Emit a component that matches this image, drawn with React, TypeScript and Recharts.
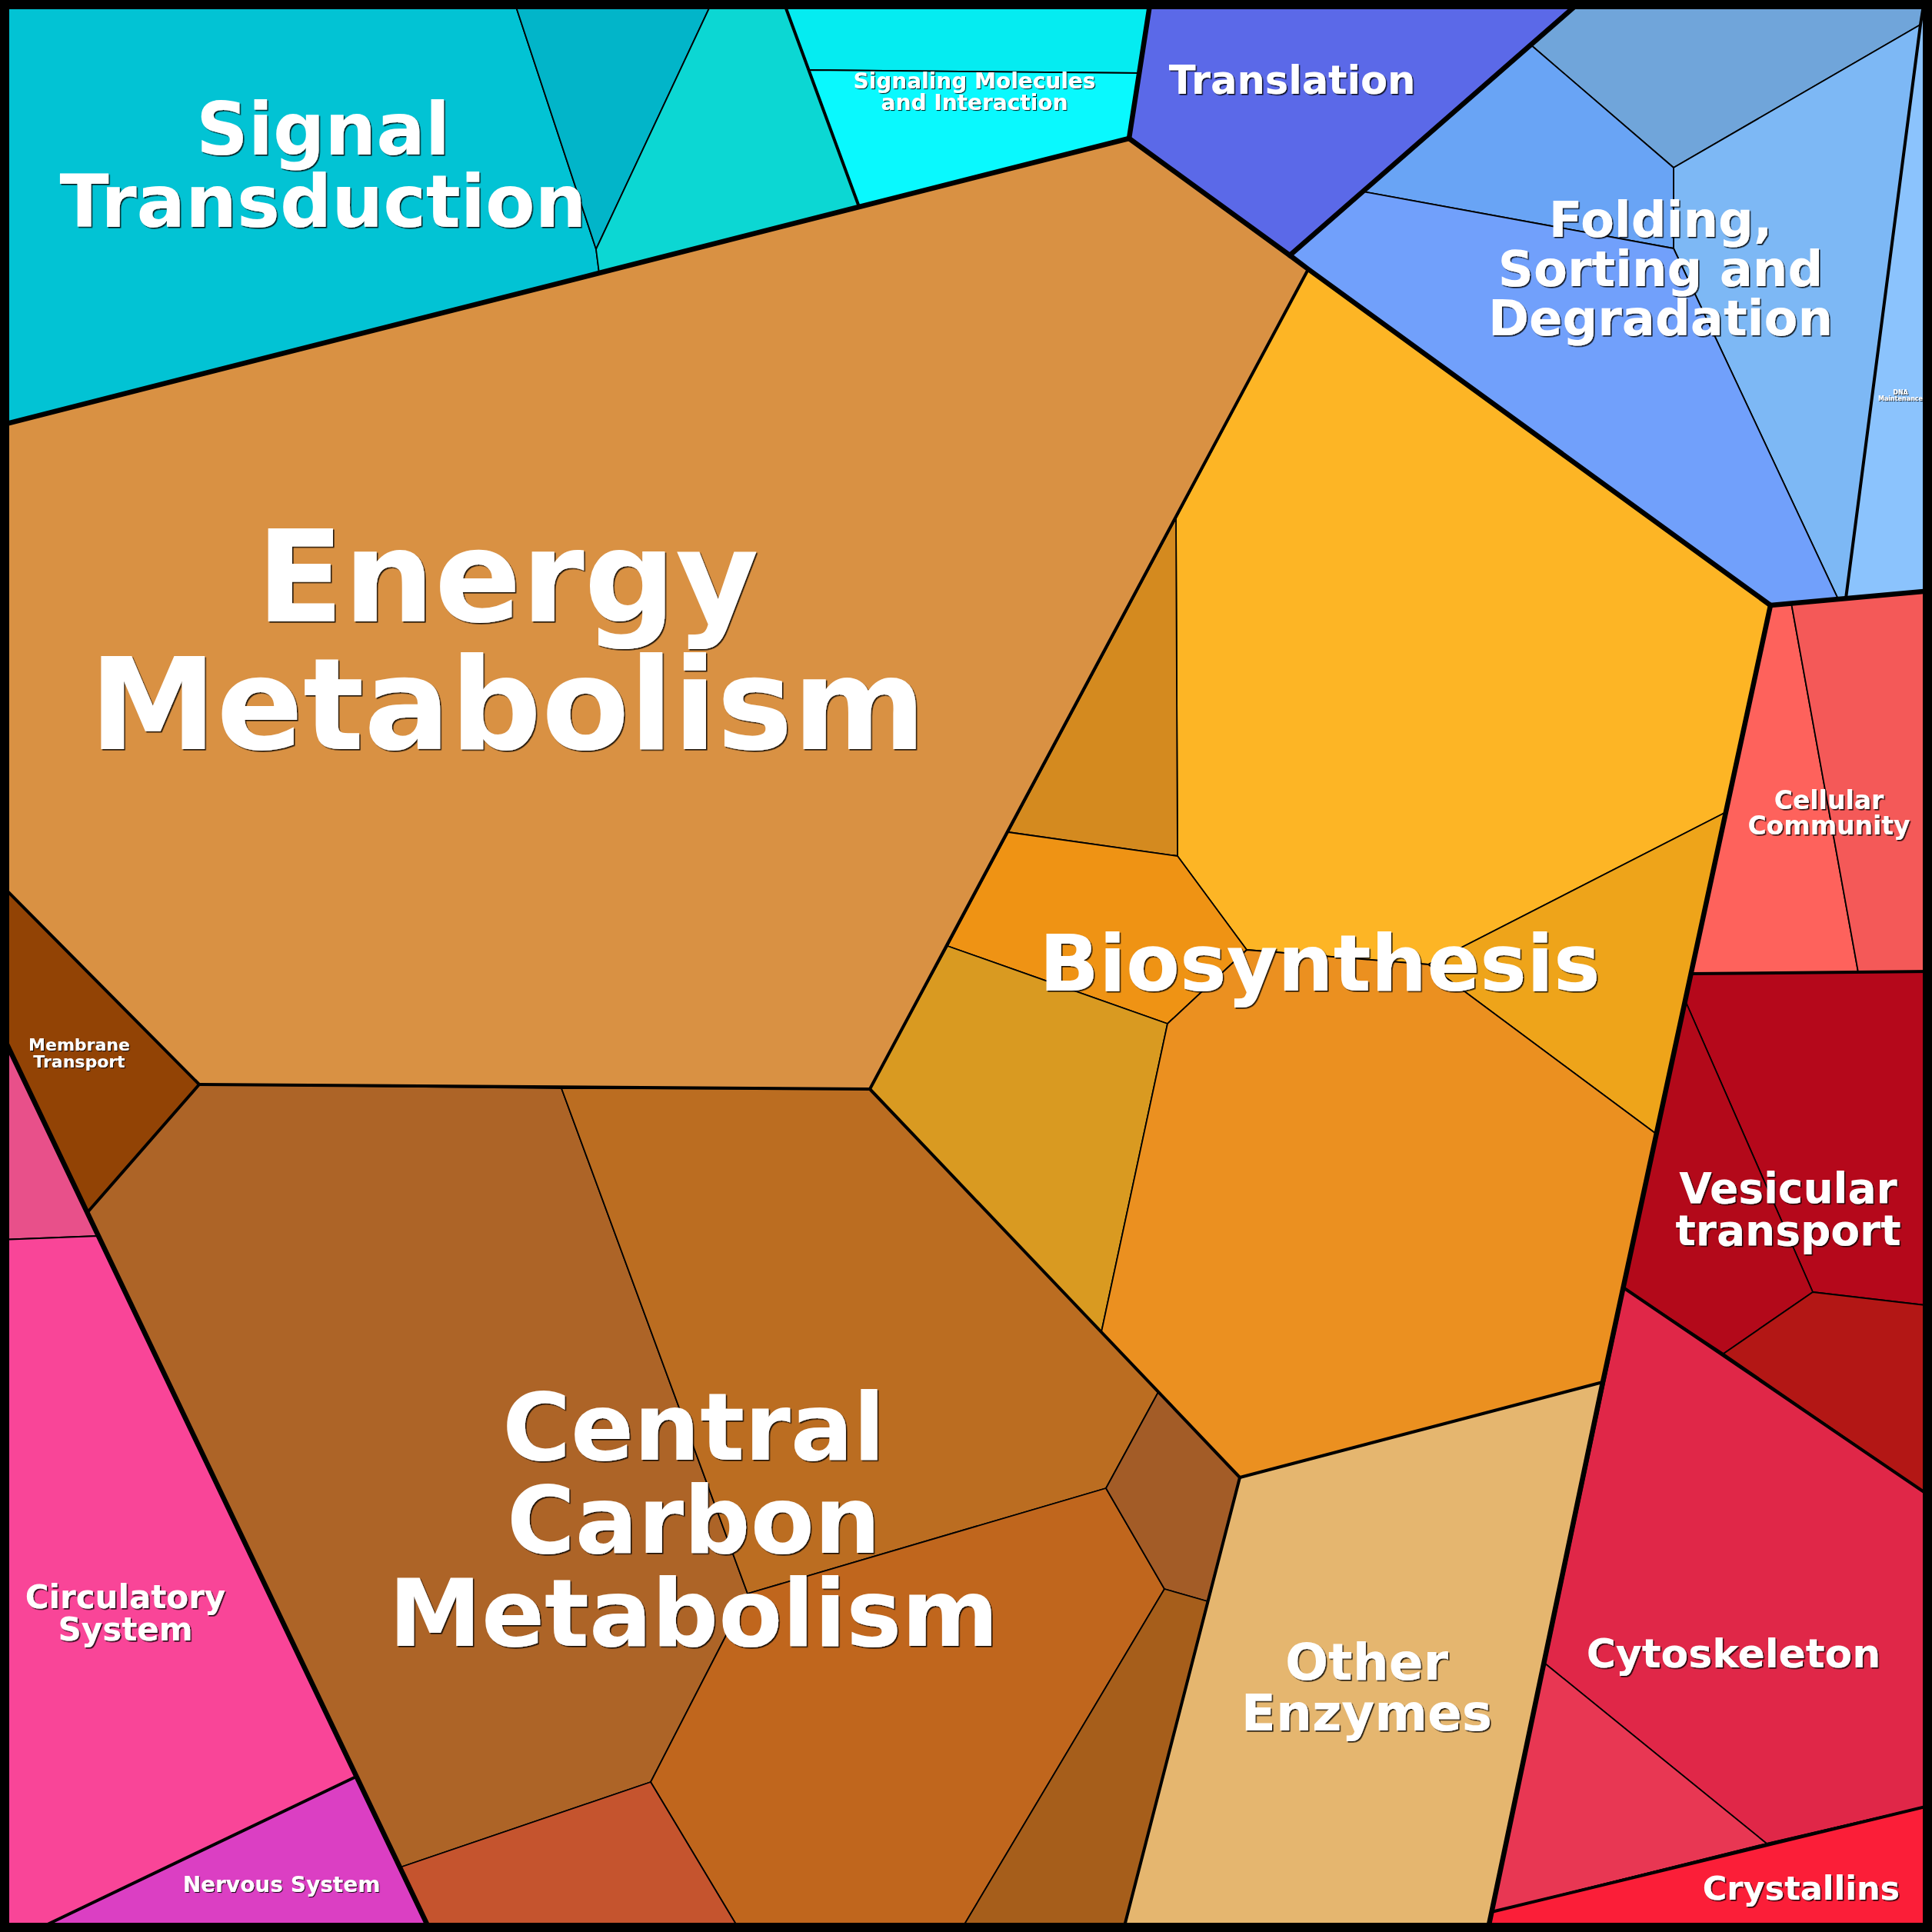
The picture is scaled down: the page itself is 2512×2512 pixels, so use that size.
import React from 'react';
import { ScatterChart, Scatter, XAxis, YAxis } from 'recharts';

type P = [number, number];

const SIZE = 2512;

// ---------- leaf cells (vertices in chart units, y down) ----------
const signalTransA: P[] = [[0, 0], [668, 0], [775, 324], [779, 355], [0, 553]];
const signalTransB: P[] = [[668, 0], [927, 0], [775, 324]];
const signalTransC: P[] = [[927, 0], [1018, 0], [1117, 269], [779, 355], [775, 324]];
const signalingMolA: P[] = [[1018, 0], [1496, 0], [1481, 95], [1052, 91]];
const signalingMolB: P[] = [[1052, 91], [1481, 95], [1468, 180], [1117, 269]];
const translation: P[] = [[1496, 0], [2057, 0], [1677, 332], [1468, 180]];
const foldingA: P[] = [[1990, 58], [2057, 0], [2502, 0], [2497, 32], [2176, 218]];
const foldingB: P[] = [[2176, 218], [2497, 32], [2400, 778], [2390, 779], [2176, 323]];
const foldingC: P[] = [[1990, 58], [2176, 218], [2176, 323], [1772, 249]];
const foldingD: P[] = [[1772, 249], [2176, 323], [2390, 779], [2302, 787], [1701, 350], [1677, 332]];
const dnaMaintenance: P[] = [[2502, 0], [2512, 0], [2512, 768], [2400, 778], [2497, 32]];
const energyMetabolism: P[] = [[0, 553], [779, 355], [1468, 180], [1701, 350], [1131, 1416], [259, 1410], [0, 1149]];
const biosynYellow: P[] = [[1701, 350], [2302, 787], [2244, 1056], [1857, 1254], [1621, 1235], [1531, 1113], [1529, 674]];
const biosynDark: P[] = [[1529, 674], [1531, 1113], [1311, 1082]];
const biosynOrange: P[] = [[1311, 1082], [1531, 1113], [1621, 1235], [1518, 1331], [1232, 1230]];
const biosynGold: P[] = [[1232, 1230], [1518, 1331], [1432, 1732], [1131, 1416]];
const biosynAmber: P[] = [[1857, 1254], [2244, 1056], [2153, 1474]];
const biosynMain: P[] = [[1518, 1331], [1621, 1235], [1857, 1254], [2153, 1474], [2084, 1797], [1612, 1921], [1432, 1732]];
const centralA: P[] = [[114, 1576], [259, 1410], [730, 1415], [972, 2072], [846, 2317], [520, 2428]];
const centralB: P[] = [[730, 1415], [1131, 1416], [1506, 1810], [1438, 1935], [972, 2072]];
const centralC: P[] = [[972, 2072], [1438, 1935], [1514, 2066], [1248, 2512], [963, 2512], [846, 2317]];
const centralD: P[] = [[1438, 1935], [1506, 1810], [1612, 1921], [1570, 2082], [1514, 2066]];
const centralE: P[] = [[1514, 2066], [1570, 2082], [1460, 2512], [1248, 2512]];
const centralF: P[] = [[520, 2428], [846, 2317], [963, 2512], [560, 2512]];
const membraneTransport: P[] = [[0, 1149], [259, 1410], [114, 1576], [0, 1339]];
const otherEnzymes: P[] = [[1612, 1921], [2084, 1797], [1934, 2512], [1460, 2512]];
const pinkTop: P[] = [[0, 1339], [128, 1607], [0, 1612]];
const circulatory: P[] = [[0, 1612], [128, 1607], [463, 2310], [41, 2512], [0, 2512]];
const nervous: P[] = [[41, 2512], [463, 2310], [560, 2512]];
const cellCommA: P[] = [[2302, 787], [2329, 784], [2416, 1264], [2199, 1266]];
const cellCommB: P[] = [[2329, 784], [2512, 768], [2512, 1263], [2416, 1264]];
const vesicularA: P[] = [[2199, 1266], [2512, 1263], [2512, 1698], [2357, 1680], [2192, 1303]];
const vesicularB: P[] = [[2192, 1303], [2357, 1680], [2241, 1760], [2112, 1675]];
const vesicularC: P[] = [[2357, 1680], [2512, 1698], [2512, 1947], [2241, 1760]];
const cytoskeletonA: P[] = [[2112, 1675], [2512, 1947], [2512, 2347], [2297, 2397], [2009, 2163]];
const cytoskeletonB: P[] = [[2009, 2163], [2297, 2397], [1939, 2486]];
const crystallins: P[] = [[1939, 2486], [2297, 2397], [2512, 2347], [2512, 2512], [1934, 2512]];

const cells: { name: string; pts: P[] }[] = [
  { name: 'signalTransA', pts: signalTransA },
  { name: 'signalTransB', pts: signalTransB },
  { name: 'signalTransC', pts: signalTransC },
  { name: 'signalingMolA', pts: signalingMolA },
  { name: 'signalingMolB', pts: signalingMolB },
  { name: 'translation', pts: translation },
  { name: 'foldingA', pts: foldingA },
  { name: 'foldingB', pts: foldingB },
  { name: 'foldingC', pts: foldingC },
  { name: 'foldingD', pts: foldingD },
  { name: 'dnaMaintenance', pts: dnaMaintenance },
  { name: 'energyMetabolism', pts: energyMetabolism },
  { name: 'biosynYellow', pts: biosynYellow },
  { name: 'biosynDark', pts: biosynDark },
  { name: 'biosynOrange', pts: biosynOrange },
  { name: 'biosynGold', pts: biosynGold },
  { name: 'biosynAmber', pts: biosynAmber },
  { name: 'biosynMain', pts: biosynMain },
  { name: 'centralA', pts: centralA },
  { name: 'centralB', pts: centralB },
  { name: 'centralC', pts: centralC },
  { name: 'centralD', pts: centralD },
  { name: 'centralE', pts: centralE },
  { name: 'centralF', pts: centralF },
  { name: 'membraneTransport', pts: membraneTransport },
  { name: 'otherEnzymes', pts: otherEnzymes },
  { name: 'pinkTop', pts: pinkTop },
  { name: 'circulatory', pts: circulatory },
  { name: 'nervous', pts: nervous },
  { name: 'cellCommA', pts: cellCommA },
  { name: 'cellCommB', pts: cellCommB },
  { name: 'vesicularA', pts: vesicularA },
  { name: 'vesicularB', pts: vesicularB },
  { name: 'vesicularC', pts: vesicularC },
  { name: 'cytoskeletonA', pts: cytoskeletonA },
  { name: 'cytoskeletonB', pts: cytoskeletonB },
  { name: 'crystallins', pts: crystallins },
];

// ---------- group borders ----------
const mediumBorders: P[][] = [
  [[1018, 0], [1117, 269]],
  [[1701, 350], [1131, 1416]],
  [[0, 1149], [259, 1410], [114, 1576]],
  [[259, 1410], [1131, 1416]],
  [[1131, 1416], [1612, 1921], [1460, 2512]],
  [[1612, 1921], [2084, 1797]],
  [[2199, 1266], [2512, 1263]],
  [[2112, 1675], [2512, 1947]],
  [[1939, 2486], [2512, 2347]],
  [[463, 2310], [41, 2512]],
  [[2502, 0], [2497, 32], [2400, 778]],
];
const thickBorders: P[][] = [
  [[0, 553], [779, 355], [1117, 269], [1468, 180]],
  [[1496, 0], [1468, 180]],
  [[1468, 180], [1677, 332], [1701, 350], [2302, 787]],
  [[2302, 787], [2512, 768]],
  [[2302, 787], [2084, 1797], [1934, 2512]],
  [[0, 1339], [560, 2512]],
  [[2057, 0], [1677, 332]],
];
const frame: P[] = [[0, 0], [SIZE, 0], [SIZE, SIZE], [0, SIZE]];

// ---------- labels ----------
const labelTexts: string[][] = [
  ['Signal', 'Transduction'],
  ['Signaling Molecules', 'and Interaction'],
  ['Translation'],
  ['Folding,', 'Sorting and', 'Degradation'],
  ['DNA', 'Maintenance'],
  ['Energy', 'Metabolism'],
  ['Biosynthesis'],
  ['Cellular', 'Community'],
  ['Vesicular', 'transport'],
  ['Membrane', 'Transport'],
  ['Central', 'Carbon', 'Metabolism'],
  ['Other', 'Enzymes'],
  ['Cytoskeleton'],
  ['Circulatory', 'System'],
  ['Nervous System'],
  ['Crystallins'],
];
const labelX: number[] = [420, 1267, 1680, 2159, 2471, 660, 1716, 2378, 2325, 103, 902, 1777, 2254, 163, 366, 2342];
const labelY: number[] = [201, 115, 122, 308, 513, 808, 1288, 1052, 1564, 1366, 1898, 2184, 2168, 2091, 2460, 2470];

// ---------- styles ----------
const cellColor: Record<string, string> = {
  signalTransA: '#02c3d4',
  signalTransB: '#02b5c9',
  signalTransC: '#0cd7d3',
  signalingMolA: '#05ecf1',
  signalingMolB: '#09f9fe',
  translation: '#5b69e8',
  foldingA: '#70a5da',
  foldingB: '#7db8f5',
  foldingC: '#69a4f5',
  foldingD: '#71a0fb',
  dnaMaintenance: '#8bc3fd',
  energyMetabolism: '#d99143',
  biosynYellow: '#fdb525',
  biosynDark: '#d48a1f',
  biosynOrange: '#ef9314',
  biosynGold: '#d99a21',
  biosynAmber: '#eea41a',
  biosynMain: '#eb9020',
  centralA: '#ad6427',
  centralB: '#bb6d21',
  centralC: '#c0661d',
  centralD: '#a35c27',
  centralE: '#a65e1b',
  centralF: '#c5542e',
  membraneTransport: '#924305',
  otherEnzymes: '#e5b66f',
  pinkTop: '#e8508a',
  circulatory: '#f94598',
  nervous: '#db3fc3',
  cellCommA: '#fe625c',
  cellCommB: '#f45958',
  vesicularA: '#b5081b',
  vesicularB: '#b3091a',
  vesicularC: '#b31715',
  cytoskeletonA: '#e02748',
  cytoskeletonB: '#e83753',
  crystallins: '#fb1e38',
};
const labelSize: number[] = [94, 28, 51, 64, 8, 166, 102, 33, 55, 22, 121, 66, 52, 42, 28, 43];
const THIN = 1.8;
const MEDIUM = 4;
const THICK = 6.5;

const toXY = (pts: P[]) => pts.map(([x, y]) => ({ x, y }));

const makeLine = (fill: string, stroke: string, sw: number, closed: boolean) => (props: any) => {
  const pts = (props.points || []).map((p: any) => `${p.x},${p.y}`).join(' ');
  if (closed) {
    return <polygon points={pts} fill={fill} stroke={stroke} strokeWidth={sw} strokeLinejoin="round" />;
  }
  return (
    <polyline points={pts} fill="none" stroke={stroke} strokeWidth={sw} strokeLinejoin="round" strokeLinecap="round" />
  );
};

const NoShape = () => <g />;

const labelData = labelTexts.map((lines, i) => ({ x: labelX[i], y: labelY[i], idx: i }));

const LabelShape = (props: any) => {
  const { cx, cy, payload } = props;
  if (cx == null || cy == null || !payload) return <g />;
  const i = payload.idx as number;
  const size = labelSize[i];
  const lines = labelTexts[i];
  const off = size < 30 ? 1.1 : 1.6;
  const fid = `txtshadow${i}`;
  return (
    <g>
      <defs>
        <filter id={fid} x="-10%" y="-10%" width="120%" height="120%">
          <feDropShadow dx={off} dy={off} stdDeviation={0.4} floodColor="#000" floodOpacity={0.85} />
        </filter>
      </defs>
      <text
        x={cx}
        y={cy}
        textAnchor="middle"
        fontFamily="'DejaVu Sans', sans-serif"
        fontWeight="bold"
        fontSize={size}
        fill="#ffffff"
        filter={`url(#${fid})`}
      >
        {lines.map((ln, k) => (
          <tspan key={k} x={cx} dy={k === 0 ? 0 : size}>
            {ln}
          </tspan>
        ))}
      </text>
    </g>
  );
};

export default function App() {
  return (
    <div style={{ position: 'absolute', left: 0, top: 0, width: SIZE, height: SIZE, background: '#000' }}>
      <ScatterChart width={SIZE} height={SIZE} margin={{ top: 0, right: 0, bottom: 0, left: 0 }}>
        <XAxis type="number" dataKey="x" domain={[0, SIZE]} hide />
        <YAxis type="number" dataKey="y" domain={[0, SIZE]} reversed hide />
        {cells.map((c) => (
          <Scatter
            key={c.name}
            name={c.name}
            data={toXY(c.pts)}
            line={makeLine(cellColor[c.name], '#000', THIN, true)}
            lineType="joint"
            shape={NoShape}
            isAnimationActive={false}
          />
        ))}
        {mediumBorders.map((b, i) => (
          <Scatter
            key={`m${i}`}
            data={toXY(b)}
            line={makeLine('none', '#000', MEDIUM, false)}
            lineType="joint"
            shape={NoShape}
            isAnimationActive={false}
          />
        ))}
        {thickBorders.map((b, i) => (
          <Scatter
            key={`t${i}`}
            data={toXY(b)}
            line={makeLine('none', '#000', THICK, false)}
            lineType="joint"
            shape={NoShape}
            isAnimationActive={false}
          />
        ))}
        <Scatter
          key="frame"
          data={toXY(frame)}
          line={makeLine('none', '#000', 24, true)}
          lineType="joint"
          shape={NoShape}
          isAnimationActive={false}
        />
        <Scatter key="labels" data={labelData} shape={LabelShape} isAnimationActive={false} />
      </ScatterChart>
    </div>
  );
}
